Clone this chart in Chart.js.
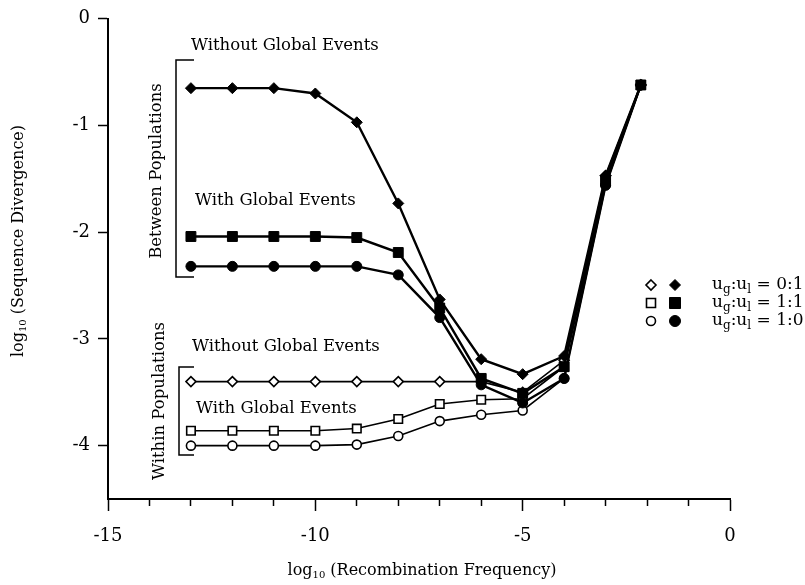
<!DOCTYPE html>
<html>
<head>
<meta charset="utf-8">
<script src="https://cdn.jsdelivr.net/npm/chart.js@4.4.1/dist/chart.umd.min.js"></script>
<style>
  body { margin: 0; background: #fff; }
</style>
</head>
<body>
<canvas id="chart" width="805" height="585"></canvas>
<script>
// log10 recombination frequency
var recomb = [-13, -12, -11, -10, -9, -8, -7, -6, -5, -4, -3, -2.15];

// between populations (filled markers)
var betweenRatio01 = [-0.65, -0.65, -0.65, -0.70, -0.97, -1.73, -2.63, -3.19, -3.33, -3.16, -1.47, -0.62];
var betweenRatio11 = [-2.04, -2.04, -2.04, -2.04, -2.05, -2.19, -2.71, -3.37, -3.51, -3.26, -1.52, -0.62];
var betweenRatio10 = [-2.32, -2.32, -2.32, -2.32, -2.32, -2.40, -2.80, -3.43, -3.60, -3.37, -1.56, -0.62];

// within populations (open markers)
var withinRatio01 = [-3.40, -3.40, -3.40, -3.40, -3.40, -3.40, -3.40, -3.40, -3.50, -3.20, -1.47, -0.62];
var withinRatio11 = [-3.86, -3.86, -3.86, -3.86, -3.84, -3.75, -3.61, -3.57, -3.56, -3.26, -1.52, -0.62];
var withinRatio10 = [-4.00, -4.00, -4.00, -4.00, -3.99, -3.91, -3.77, -3.71, -3.67, -3.37, -1.56, -0.62];

var xLabels = [-15, -10, -5, 0];
var yLabels = [0, -1, -2, -3, -4];
var legendRatios = ['0:1', '1:1', '1:0'];

var FONT = '"DejaVu Serif", "Liberation Serif", serif';

function series(label, values, style, filled, radius, width) {
    return {
        label: label,
        data: recomb.map(function (x, i) { return { x: x, y: values[i] }; }),
        showLine: true,
        borderColor: '#000',
        borderWidth: width,
        pointStyle: style,
        pointRadius: radius,
        pointHoverRadius: radius,
        pointBackgroundColor: filled ? '#000' : '#fff',
        pointBorderColor: '#000',
        pointBorderWidth: filled ? 1 : 1.6
    };
}

// text with "log" + subscript 10 + rest, centred on (0,0)
function logText(ctx, rest, size) {
    var small = Math.round(size * 0.62);
    ctx.font = size + 'px ' + FONT;
    var w1 = ctx.measureText('log').width;
    var w3 = ctx.measureText(rest).width;
    ctx.font = small + 'px ' + FONT;
    var w2 = ctx.measureText('10').width;
    var x = -(w1 + w2 + w3) / 2;
    ctx.textAlign = 'left';
    ctx.textBaseline = 'middle';
    ctx.font = size + 'px ' + FONT;
    ctx.fillText('log', x, 0);
    ctx.font = small + 'px ' + FONT;
    ctx.fillText('10', x + w1, size * 0.28);
    ctx.font = size + 'px ' + FONT;
    ctx.fillText(rest, x + w1 + w2, 0);
}

function marker(ctx, style, x, y, r, filled) {
    ctx.beginPath();
    if (style === 'rectRot') {
        ctx.moveTo(x, y - r); ctx.lineTo(x + r, y); ctx.lineTo(x, y + r); ctx.lineTo(x - r, y);
        ctx.closePath();
    } else if (style === 'rect') {
        ctx.rect(x - r, y - r, 2 * r, 2 * r);
    } else {
        ctx.arc(x, y, r, 0, Math.PI * 2);
    }
    ctx.fillStyle = filled ? '#000' : '#fff';
    ctx.fill();
    ctx.lineWidth = filled ? 1 : 1.6;
    ctx.strokeStyle = '#000';
    ctx.stroke();
}

var extras = {
    id: 'extras',
    afterDraw: function (chart) {
        var ctx = chart.ctx;
        ctx.save();
        ctx.fillStyle = '#000';
        ctx.strokeStyle = '#000';

        // axis titles
        ctx.save();
        ctx.translate(422, 571);
        logText(ctx, ' (Recombination Frequency)', 16);
        ctx.restore();
        ctx.save();
        ctx.translate(19, 241);
        ctx.rotate(-Math.PI / 2);
        logText(ctx, ' (Sequence Divergence)', 16);
        ctx.restore();

        // annotation texts
        ctx.fillStyle = '#000';
        ctx.font = '16.5px ' + FONT;
        ctx.textAlign = 'left';
        ctx.textBaseline = 'middle';
        ctx.fillText('Without Global Events', 191, 46);
        ctx.fillText('With Global Events', 195, 201);
        ctx.fillText('Without Global Events', 192, 347);
        ctx.fillText('With Global Events', 196, 409);

        // brackets
        ctx.lineWidth = 1.5;
        ctx.beginPath();
        ctx.moveTo(194, 60); ctx.lineTo(176, 60); ctx.lineTo(176, 277); ctx.lineTo(194, 277);
        ctx.moveTo(194, 367); ctx.lineTo(179, 367); ctx.lineTo(179, 455); ctx.lineTo(194, 455);
        ctx.stroke();

        // rotated group labels
        ctx.textAlign = 'center';
        ctx.save();
        ctx.translate(157, 171);
        ctx.rotate(-Math.PI / 2);
        ctx.fillText('Between Populations', 0, 0);
        ctx.restore();
        ctx.save();
        ctx.translate(160, 401);
        ctx.rotate(-Math.PI / 2);
        ctx.fillText('Within Populations', 0, 0);
        ctx.restore();

        // legend
        var styles = [['rectRot', 5, 5.5], ['rect', 4.5, 5.5], ['circle', 4.5, 5.5]];
        for (var i = 0; i < 3; i++) {
            var y = 285 + i * 18;
            marker(ctx, styles[i][0], 651, y, styles[i][1], false);
            marker(ctx, styles[i][0], 675, y, styles[i][2], true);
            var x = 712;
            ctx.fillStyle = '#000';
            ctx.textAlign = 'left';
            ctx.textBaseline = 'middle';
            ctx.font = '17px ' + FONT;
            ctx.fillText('u', x, y); x += ctx.measureText('u').width;
            ctx.font = '12px ' + FONT;
            ctx.fillText('g', x, y + 5); x += ctx.measureText('g').width;
            ctx.font = '17px ' + FONT;
            ctx.fillText(':u', x, y); x += ctx.measureText(':u').width;
            ctx.font = '12px ' + FONT;
            ctx.fillText('l', x, y + 5); x += ctx.measureText('l').width;
            ctx.font = '17px ' + FONT;
            ctx.fillText(' = ' + legendRatios[i], x, y);
        }
        ctx.restore();
    }
};

var config = {
    type: 'scatter',
    data: {
        // first dataset is drawn on top, so the filled series go first
        datasets: [
            series('between 0:1', betweenRatio01, 'rectRot', true, 5.5, 2.4),
            series('between 1:1', betweenRatio11, 'rect', true, 7, 2.4),
            series('between 1:0', betweenRatio10, 'circle', true, 5, 2.4),
            series('within 0:1', withinRatio01, 'rectRot', false, 5, 1.6),
            series('within 1:1', withinRatio11, 'rect', false, 6, 1.6),
            series('within 1:0', withinRatio10, 'circle', false, 4.5, 1.6)
        ]
    },
    options: {
        responsive: false,
        animation: false,
        devicePixelRatio: 1,
        layout: { padding: { left: 0, right: 75, top: 13, bottom: 0 } },
        plugins: { legend: { display: false }, tooltip: { enabled: false } },
        scales: {
            x: {
                type: 'linear',
                min: -15,
                max: 0,
                afterFit: function (scale) { scale.height = 86; },
                ticks: {
                    stepSize: 1,
                    autoSkip: false,
                    maxRotation: 0,
                    padding: 15,
                    color: '#000',
                    font: { family: FONT, size: 18 },
                    callback: function (v) { return xLabels.indexOf(v) >= 0 ? String(v) : ''; }
                },
                grid: {
                    drawOnChartArea: false,
                    drawTicks: true,
                    tickLength: 12,
                    tickColor: '#000',
                    tickWidth: 1.5,
                    tickBorderDash: function (c) {
                        return c.tick && xLabels.indexOf(c.tick.value) >= 0 ? [] : [6, 40];
                    }
                },
                border: { color: '#000', width: 2 }
            },
            y: {
                type: 'linear',
                min: -4.5,
                max: 0,
                afterFit: function (scale) { scale.width = 108; },
                afterBuildTicks: function (scale) {
                    scale.ticks = yLabels.map(function (v) { return { value: v }; });
                },
                ticks: {
                    padding: 8,
                    color: '#000',
                    font: { family: FONT, size: 18 },
                    callback: function (v) { return String(v); }
                },
                grid: { drawOnChartArea: false, drawTicks: true, tickLength: 10, tickColor: '#000', tickWidth: 1.5 },
                border: { color: '#000', width: 2 }
            }
        }
    },
    plugins: [extras]
};

var chart = new Chart(document.getElementById('chart'), config);
</script>
</body>
</html>
